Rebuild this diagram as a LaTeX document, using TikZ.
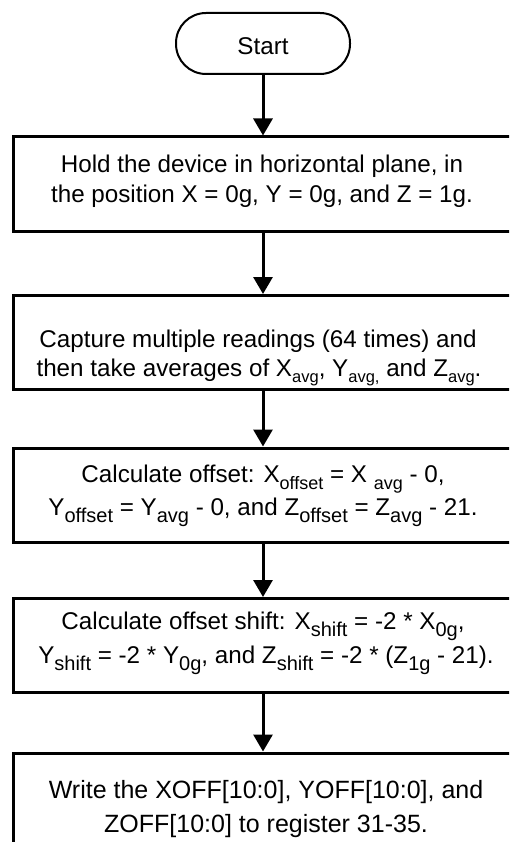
\documentclass[tikz,border=0pt]{standalone}
\usepackage{fontspec}
\setmainfont{Liberation Sans}
\usetikzlibrary{arrows.meta}
% subscript: optional size (pt) and lowering (pt)
\newcommand\mysub[3][20]{\raisebox{-#2pt}{\fontsize{#1}{#1}\selectfont #3}}
\begin{document}
\begin{tikzpicture}[x=1pt,y=-1pt,
  stepbox/.style={draw, line width=3pt, minimum width=500pt, minimum height=94pt, inner sep=0pt},
  terminal/.style={draw, line width=2pt, rounded corners=30pt, minimum width=174pt,
    minimum height=61pt, inner sep=0pt, text height=23pt, text depth=0pt,
    font=\fontsize{24.2}{30}\selectfont},
  txt/.style={anchor=base, inner sep=0pt, font=\fontsize{24.2}{30}\selectfont},
  bigtxt/.style={txt, font=\fontsize{25}{30}\selectfont},
  flow/.style={line width=3pt, -{Triangle[width=19pt,length=17pt]}}]
\clip (0,0) rectangle (509,842);
\node[terminal] (start) at (263,43.5) {Start};
% boxes
\node[stepbox] (b1) at (263,184) {};
\node[stepbox] (b2) at (263,342.5) {};
\node[stepbox] (b3) at (263,495) {};
\node[stepbox] (b4) at (263,645.5) {};
\node[stepbox] (b5) at (263,800) {};
% texts
\node[txt] (t1a) at (262,173) {Hold the device in horizontal plane, in};
\node[txt] (t1b) at (262,203) {the position X = 0g, Y = 0g, and Z = 1g.};
\node[txt] (t2a) at (258,347) {Capture multiple readings (64 times) and};
\node[txt] (t2b) at (259,376) {then take averages of X\mysub[16.5]{6}{avg}, Y\mysub[16.5]{6}{avg,} and Z\mysub[16.5]{6}{avg}.};
\node[txt] (t3a) at (263,482) {Calculate offset: X\mysub[18]{7}{offset} = X \mysub[18]{7}{avg} - 0,};
\node[txt] (t3b) at (263,515) {Y\mysub{7}{offset} = Y\mysub{7}{avg} - 0, and Z\mysub{7}{offset} = Z\mysub{7}{avg} - 21.};
\node[txt] (t4a) at (263,629) {Calculate offset shift: X\mysub{7}{shift} = -2 * X\mysub{7}{0g},};
\node[txt] (t4b) at (266,663) {Y\mysub{7}{shift} = -2 * Y\mysub{7}{0g}, and Z\mysub{7}{shift} = -2 * (Z\mysub{7}{1g} - 21).};
\node[bigtxt] (t5a) at (266,798) {Write the XOFF[10:0], YOFF[10:0], and};
\node[bigtxt] (t5b) at (266,832) {ZOFF[10:0] to register 31-35.};
% connectors
\draw[flow] (start) -- (b1);
\draw[flow] (b1) -- (b2);
\draw[flow] (b2) -- (b3);
\draw[flow] (b3) -- (b4);
\draw[flow] (b4) -- (b5);
\end{tikzpicture}
\end{document}
